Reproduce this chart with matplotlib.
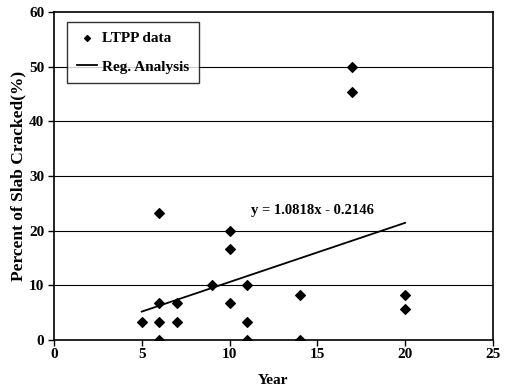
import matplotlib
matplotlib.use("Agg")
import matplotlib.pyplot as plt
import numpy as np

plt.rcParams['font.family'] = ['Liberation Serif', 'DejaVu Serif']
plt.rcParams['font.weight'] = 'bold'

# LTPP data
year = [5, 6, 6, 6, 6, 7, 7, 9, 10, 10, 10, 11, 11, 11, 14, 14, 17, 17, 20, 20]
cracked = [3.3, 23.3, 6.7, 3.3, 0, 6.7, 3.3, 10, 20, 16.7, 6.7, 10, 3.3, 0, 8.3, 0, 50, 45.3, 8.3, 5.6]

slope = 1.0818
intercept = -0.2146
fit_range = [5, 20]

fig = plt.figure(figsize=(5.07, 3.87), dpi=100)
ax = fig.add_axes([0.1065, 0.1214, 0.8655, 0.848])

for g in range(10, 60, 10):
    ax.axhline(g, color='black', lw=0.8, zorder=0)

ax.scatter(year, cracked, marker='D', s=24, color='black', label='LTPP data', zorder=3)
xs = np.array(fit_range)
ax.plot(xs, slope * xs + intercept, color='black', lw=1.3, label='Reg. Analysis', zorder=2)

ax.text(14.7, 23.6, 'y = %.4fx - %.4f' % (slope, -intercept), ha='center', va='center',
        fontsize=10.5, fontweight='bold')

ax.set_xlim(0, 25)
ax.set_ylim(0, 60)
ax.set_xticks(range(0, 26, 5))
ax.set_yticks(range(0, 61, 10))
ax.tick_params(direction='out', length=4, width=1, labelsize=11)
ax.tick_params(axis='y', pad=3)
ax.tick_params(axis='x', pad=2)
for s in ax.spines.values():
    s.set_linewidth(1.2)

ax.set_xlabel('Year', fontsize=11, fontweight='bold', labelpad=9)
ax.set_ylabel('Percent of Slab Cracked(%)', fontsize=12.5, fontweight='bold', labelpad=2)

leg = ax.legend(loc='upper left', bbox_to_anchor=(0.03, 0.97), frameon=True,
                fancybox=False, edgecolor='black', handlelength=1.3, handletextpad=0.3,
                borderpad=0.65, labelspacing=0.95, markerscale=0.6, borderaxespad=0,
                prop={'weight': 'bold', 'size': 11})
leg.get_frame().set_linewidth(1.0)

fig.savefig('out.png', dpi=100)
